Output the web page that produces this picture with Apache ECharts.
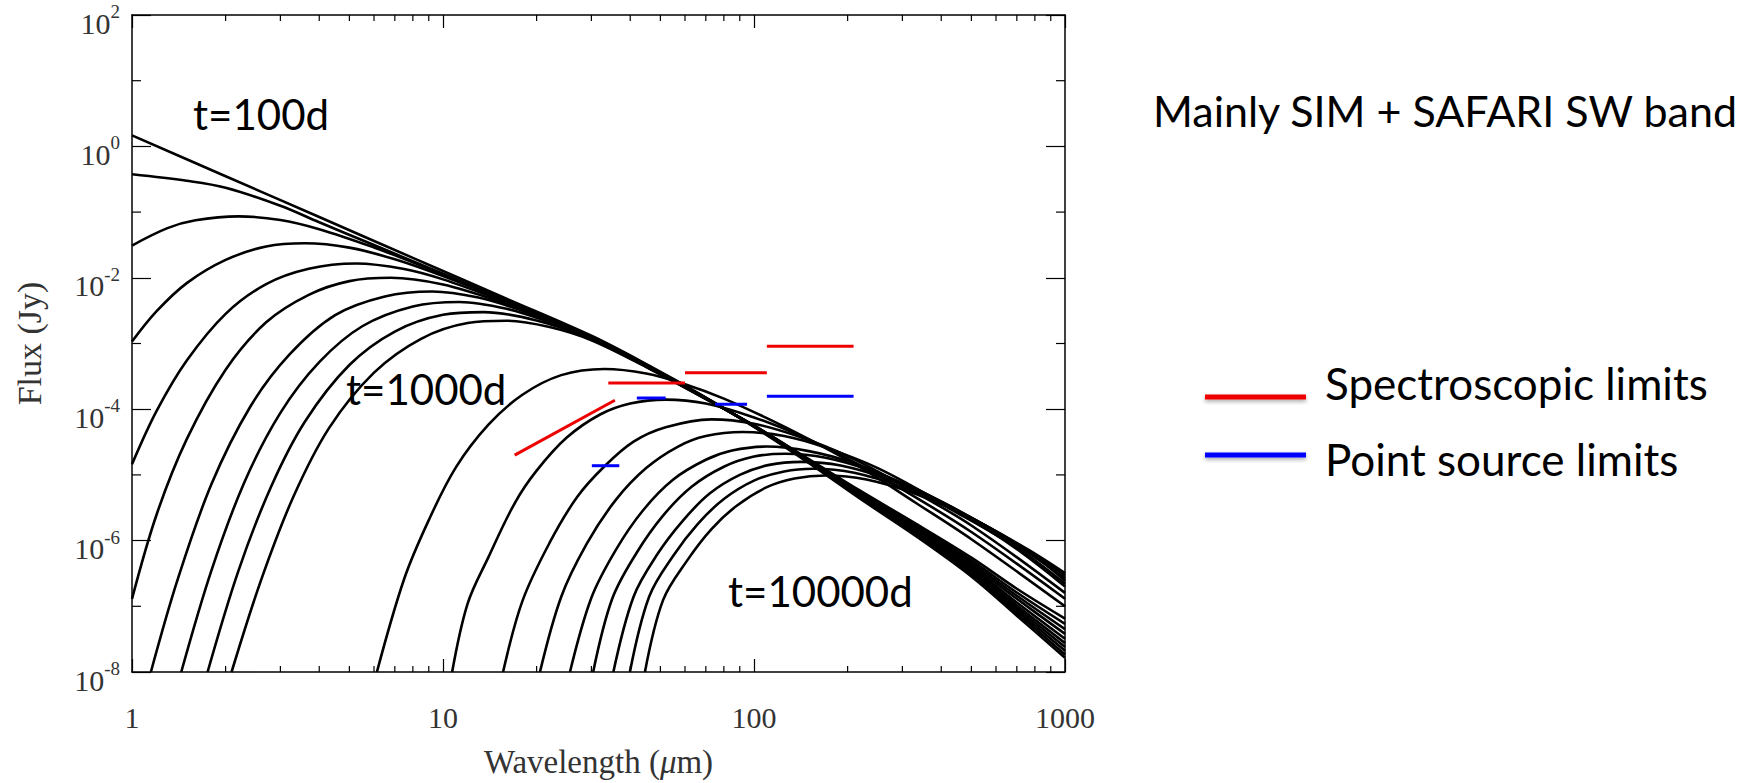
<!DOCTYPE html>
<html>
<head>
<meta charset="utf-8">
<script src="https://cdn.jsdelivr.net/npm/echarts@6/dist/echarts.min.js"></script>
<style>
html,body{margin:0;padding:0;background:#fff;}
#chart{width:1750px;height:783px;}
</style>
</head>
<body>
<div id="chart"></div>
<script>
// ---------- axis ticks ----------
const xTickLabels = ['1', '10', '100', '1000'];
const yTickExponents = [-8, -6, -4, -2, 0, 2];
const xMinorTicks = [2,3,4,5,6,7,8,9,20,30,40,50,60,70,80,90,200,300,400,500,600,700,800,900];
const yMinorTicks = [1e-7, 1e-5, 1e-3, 1e-1, 1e1];

// ---------- model curves: [wavelength (um), flux (Jy)] ----------
const curveT100d = [[1,1.47],[2,0.352],[4,0.0841],[8,0.0201],[16,4.81e-3],[30,1.31e-3],[46,4.6e-4],[67,1.7e-4],[100,5.4e-5],[150,1.52e-5],[220,4.3e-6],[330,1.19e-6],[500,2.85e-7],[700,7.2e-8],[1000,1.65e-8]];
const curveE2 = [[1,0.377],[1.5,0.3],[2,0.235],[3,0.125],[4,0.07],[6,0.0315],[10,0.0115],[16,4.55e-3],[22,2.35e-3],[30,1.28e-3],[46,4.5e-4],[67,1.68e-4],[100,5.45e-5],[150,1.55e-5],[220,4.45e-6],[330,1.24e-6],[500,3.05e-7],[700,7.9e-8],[1000,1.85e-8]];
const curveE3 = [[1,0.031],[1.3,0.057],[1.6,0.075],[2.2,0.086],[3,0.076],[4,0.055],[6,0.029],[8,0.0172],[12,7.8e-3],[16,4.45e-3],[22,2.3e-3],[30,1.25e-3],[46,4.45e-4],[67,1.67e-4],[100,5.45e-5],[150,1.57e-5],[220,4.55e-6],[330,1.29e-6],[500,3.25e-7],[700,8.6e-8],[1000,2.1e-8]];
const curveE4 = [[1,1.07e-3],[1.2,3.1e-3],[1.5,8.3e-3],[2,0.0187],[2.7,0.03],[3.6,0.0336],[5,0.0288],[7,0.0191],[10,0.0106],[16,4.37e-3],[22,2.25e-3],[30,1.24e-3],[46,4.4e-4],[67,1.66e-4],[100,5.5e-5],[150,1.59e-5],[220,4.7e-6],[330,1.35e-6],[500,3.45e-7],[700,9.4e-8],[1000,2.4e-8]];
const curveE5 = [[1,1.45e-5],[1.2,9.4e-5],[1.5,5.5e-4],[2,2.83e-3],[2.7,8.0e-3],[3.7,0.0137],[5.25,0.0165],[7.5,0.0136],[10,9.46e-3],[15,4.72e-3],[22,2.27e-3],[30,1.23e-3],[46,4.35e-4],[67,1.65e-4],[100,5.5e-5],[150,1.61e-5],[220,4.8e-6],[330,1.4e-6],[500,3.7e-7],[700,1.03e-7],[1000,2.75e-8]];
const curveE6 = [[1,1.3e-7],[1.2,2.5e-6],[1.5,3.5e-5],[2,4.0e-4],[2.7,2.1e-3],[3.7,5.5e-3],[5,8.9e-3],[6.8,0.01],[10,7.9e-3],[15,4.45e-3],[22,2.23e-3],[30,1.21e-3],[46,4.3e-4],[67,1.64e-4],[100,5.5e-5],[150,1.63e-5],[220,4.95e-6],[330,1.46e-6],[500,3.95e-7],[700,1.14e-7],[1000,3.2e-8]];
const curveE7 = [[1.15,1e-8],[1.4,2.5e-7],[1.8,7.2e-6],[2.4,1.09e-4],[3.2,6.7e-4],[4.5,2.7e-3],[6.5,5.2e-3],[9.25,6.2e-3],[13,5.0e-3],[18,3.15e-3],[25,1.74e-3],[30,1.22e-3],[46,4.3e-4],[67,1.63e-4],[100,5.55e-5],[150,1.65e-5],[220,5.1e-6],[330,1.53e-6],[500,4.25e-7],[700,1.3e-7],[1000,3.8e-8]];
const curveE8 = [[1.44,1e-8],[1.8,3.5e-7],[2.3,7.8e-6],[3,8.8e-5],[4,5.2e-4],[5.5,1.83e-3],[8,3.66e-3],[11.3,4.28e-3],[16,3.37e-3],[22,2.11e-3],[30,1.2e-3],[46,4.25e-4],[67,1.62e-4],[100,5.6e-5],[150,1.68e-5],[220,5.25e-6],[330,1.62e-6],[500,4.6e-7],[700,1.45e-7],[1000,4.5e-8]];
const curveE9 = [[1.75,1e-8],[2.2,3.5e-7],[2.8,6.6e-6],[3.6,6.5e-5],[5,4.7e-4],[7,1.52e-3],[10,2.73e-3],[13.5,3.0e-3],[20,2.24e-3],[30,1.16e-3],[46,4.2e-4],[67,1.61e-4],[100,5.6e-5],[150,1.7e-5],[220,5.45e-6],[330,1.72e-6],[500,5.0e-7],[700,1.62e-7],[1000,5.4e-8]];
const curveE10 = [[2.09,1e-8],[2.6,2.5e-7],[3.3,4.6e-6],[4.3,5.15e-5],[6,3.6e-4],[8.5,1.18e-3],[12,2.05e-3],[16,2.22e-3],[22,1.78e-3],[30,1.12e-3],[46,4.15e-4],[67,1.6e-4],[100,5.65e-5],[150,1.74e-5],[220,5.7e-6],[330,1.83e-6],[500,5.5e-7],[700,1.85e-7],[1000,6.5e-8]];

const curveT1000d = [[6.13,1e-8],[7.5,2.6e-7],[9,2.05e-6],[11,1.3e-5],[14,5.8e-5],[18,1.66e-4],[24,3.3e-4],[33,4.1e-4],[45,3.5e-4],[60,2.4e-4],[80,1.45e-4],[110,7.3e-5],[150,3.5e-5],[220,1.3e-5],[330,3.8e-6],[500,1.05e-6],[1000,1.0e-7]];
const curveL2 = [[10.7,1e-8],[12,1.1e-7],[14,5.6e-7],[17,3.7e-6],[20,1.16e-5],[25,3.7e-5],[32,8.3e-5],[40,1.22e-4],[52,1.4e-4],[70,1.22e-4],[100,7.5e-5],[140,4.0e-5],[200,1.76e-5],[300,6.0e-6],[500,1.35e-6],[1000,1.3e-7]];
const curveL3 = [[15.6,1e-8],[18,1.2e-7],[22,9.2e-7],[27,4.6e-6],[33,1.34e-5],[41,3.2e-5],[52,5.3e-5],[73,7e-5],[100,6.0e-5],[140,3.8e-5],[200,1.93e-5],[300,7.0e-6],[500,1.7e-6],[1000,1.6e-7]];
const curveL4 = [[20.5,1e-8],[24,1.4e-7],[29,9e-7],[36,4.2e-6],[45,1.27e-5],[57,2.7e-5],[70,3.9e-5],[92,4.5e-5],[125,3.9e-5],[170,2.6e-5],[250,1.27e-5],[400,3.8e-6],[650,9.5e-7],[1000,2.0e-7]];
const curveL5 = [[25.6,1e-8],[30,1.35e-7],[36,7.3e-7],[44,2.9e-6],[55,8.5e-6],[70,1.7e-5],[85,2.35e-5],[110,2.7e-5],[150,2.3e-5],[210,1.5e-5],[300,7.3e-6],[450,2.65e-6],[700,7.8e-7],[1000,2.2e-7]];
const curveL6 = [[30.4,1e-8],[35,1.3e-7],[42,6.6e-7],[51,2.4e-6],[63,6.6e-6],[80,1.33e-5],[100,1.9e-5],[126,2.1e-5],[170,1.83e-5],[240,1.15e-5],[350,5.4e-6],[520,2.0e-6],[750,7.2e-7],[1000,2.45e-7]];
const curveL7 = [[35.3,1e-8],[41,1.4e-7],[49,6.3e-7],[59,2.0e-6],[72,5.2e-6],[90,1.0e-5],[112,1.42e-5],[142,1.58e-5],[190,1.39e-5],[270,8.6e-6],[400,3.9e-6],[600,1.35e-6],[1000,2.7e-7]];
const curveL8 = [[39.9,1e-8],[46,1.4e-7],[55,5.9e-7],[66,1.8e-6],[80,4.3e-6],[100,8.2e-6],[125,1.13e-5],[155,1.24e-5],[210,1.08e-5],[300,6.5e-6],[450,2.85e-6],[700,9.0e-7],[1000,2.95e-7]];
const curveT10000d = [[44.6,1e-8],[51,1.24e-7],[61,5.0e-7],[73,1.5e-6],[88,3.4e-6],[110,6.5e-6],[135,8.8e-6],[170,9.8e-6],[230,8.5e-6],[330,5.15e-6],[500,2.2e-6],[750,7.6e-7],[1000,3.2e-7]];

// ---------- sensitivity limits: [lambda1, flux1, lambda2, flux2] ----------
const spectroscopicLimits = [[17.0,2.0e-5,35.7,1.37e-4],[34.0,2.5e-4,60,2.5e-4],[60,3.6e-4,110,3.6e-4],[110,9.1e-4,209,9.1e-4]];
const pointSourceLimits = [[30.1,1.38e-5,36.9,1.38e-5],[42,1.48e-4,52,1.48e-4],[75,1.19e-4,95,1.19e-4],[110,1.58e-4,209,1.58e-4]];

// ---------- texts ----------
const annotationTexts = ['t=100d', 't=1000d', 't=10000d'];
const titleText = 'Mainly SIM + SAFARI SW band';
const legendNames = ['Spectroscopic limits', 'Point source limits'];

// ---------- build ----------
const modelCurves = [curveT100d, curveE2, curveE3, curveE4, curveE5, curveE6, curveE7, curveE8, curveE9, curveE10,
  curveT1000d, curveL2, curveL3, curveL4, curveL5, curveL6, curveL7, curveL8, curveT10000d];

const X_MIN = 1, X_MAX = 1000, Y_MIN = 1e-8, Y_MAX = 1e2;
const SERIF = '"Liberation Serif", "Times New Roman", serif';
const SANS = 'Lato, "Open Sans", sans-serif';
const AX = '#000';

const series = [];
modelCurves.forEach((c, i) => {
  series.push({
    type: 'line', name: 'model' + i, data: c, showSymbol: false, smooth: 0.35,
    lineStyle: { color: '#000', width: 2.6 }, silent: true, z: 2, animation: false
  });
});
function addLimits(list, color, name) {
  list.forEach(s => {
    series.push({
      type: 'line', name: name, data: [[s[0], s[1]], [s[2], s[3]]], showSymbol: false,
      lineStyle: { color: color, width: 3 }, silent: true, z: 4, animation: false
    });
  });
}
addLimits(spectroscopicLimits, '#ee0000', legendNames[0]);
addLimits(pointSourceLimits, '#0000ff', legendNames[1]);

// minor ticks drawn through the axes' own scales
series.push({
  type: 'custom', coordinateSystem: 'cartesian2d', silent: true, clip: false, z: 5, animation: false,
  data: xMinorTicks.map(v => [v, Y_MIN]),
  renderItem: function (params, api) {
    const v = api.value(0);
    const pb = api.coord([v, Y_MIN]);
    const pt = api.coord([v, Y_MAX]);
    return { type: 'group', children: [
      { type: 'line', shape: { x1: pb[0], y1: pb[1], x2: pb[0], y2: pb[1] - 6 }, style: { stroke: AX, lineWidth: 1.2 } },
      { type: 'line', shape: { x1: pt[0], y1: pt[1], x2: pt[0], y2: pt[1] + 6 }, style: { stroke: AX, lineWidth: 1.2 } }
    ]};
  }
});
series.push({
  type: 'custom', coordinateSystem: 'cartesian2d', silent: true, clip: false, z: 5, animation: false,
  data: yMinorTicks.map(v => [X_MIN, v]),
  renderItem: function (params, api) {
    const v = api.value(1);
    const pl = api.coord([X_MIN, v]);
    const pr = api.coord([X_MAX, v]);
    return { type: 'group', children: [
      { type: 'line', shape: { x1: pl[0], y1: pl[1], x2: pl[0] + 9, y2: pl[1] }, style: { stroke: AX, lineWidth: 1.2 } },
      { type: 'line', shape: { x1: pr[0], y1: pr[1], x2: pr[0] - 9, y2: pr[1] }, style: { stroke: AX, lineWidth: 1.2 } }
    ]};
  }
});

function xAxisCfg(pos, labels) {
  return {
    type: 'log', logBase: 10, min: X_MIN, max: X_MAX, interval: 1, position: pos,
    axisLine: { show: true, lineStyle: { color: AX, width: 1.5 } },
    axisTick: { show: true, inside: true, length: 13, lineStyle: { color: AX, width: 1.2 } },
    axisLabel: {
      show: labels, margin: 30, fontFamily: SERIF, fontSize: 30, color: '#333',
      formatter: function (v) { const e = Math.round(Math.log10(v)); return xTickLabels[e]; }
    },
    splitLine: { show: false },
    name: labels ? 'Wavelength ({i|μ}m)' : '', nameLocation: 'middle', nameGap: 73,
    nameTextStyle: { fontFamily: SERIF, fontSize: 33, color: '#333',
      rich: { i: { fontFamily: SERIF, fontSize: 33, fontStyle: 'italic', color: '#333' } } }
  };
}
function yAxisCfg(pos, labels) {
  return {
    type: 'log', logBase: 10, min: Y_MIN, max: Y_MAX, interval: 2, position: pos,
    axisLine: { show: true, lineStyle: { color: AX, width: 1.5 } },
    axisTick: { show: true, inside: true, length: 19, lineStyle: { color: AX, width: 1.2 } },
    axisLabel: {
      show: labels, margin: 12, color: '#333',
      formatter: function (v) {
        const e = Math.round(Math.log10(v));
        return yTickExponents.indexOf(e) >= 0 ? '{b|10}{s|' + e + '}' : '';
      },
      rich: {
        b: { fontFamily: SERIF, fontSize: 30, lineHeight: 30, padding: [8, 0, 0, 0], verticalAlign: 'top', color: '#333' },
        s: { fontFamily: SERIF, fontSize: 19, lineHeight: 19, padding: [2, 0, 0, 0], verticalAlign: 'top', color: '#333' }
      }
    },
    splitLine: { show: false },
    name: labels ? 'Flux (Jy)' : '', nameLocation: 'middle', nameGap: 86, nameRotate: 90,
    nameTextStyle: { fontFamily: SERIF, fontSize: 34, color: '#333' }
  };
}

function txt(x, y, s, size) {
  return { type: 'text', x: x, y: y, z: 10, silent: true,
    style: { text: s, font: size + 'px ' + SANS, fill: '#000', align: 'left', verticalAlign: 'middle', textAlign: 'left', textVerticalAlign: 'middle' } };
}
function legendBar(yCenter, color) {
  return { type: 'rect', z: 10, silent: true, shape: { x: 1205, y: yCenter - 2.5, width: 101, height: 5 },
    style: { fill: color, shadowBlur: 4, shadowOffsetY: 2, shadowColor: 'rgba(0,0,0,0.35)' } };
}

const chart = echarts.init(document.getElementById('chart'), null, { renderer: 'svg' });
chart.setOption({
  animation: false,
  backgroundColor: '#fff',
  grid: { left: 132, top: 14, width: 933, height: 660, containLabel: false },
  xAxis: [xAxisCfg('bottom', true), xAxisCfg('top', false)],
  yAxis: [yAxisCfg('left', true), yAxisCfg('right', false)],
  series: series,
  graphic: [
    txt(193, 114, annotationTexts[0], 42),
    txt(346, 389, annotationTexts[1], 42),
    txt(728, 591, annotationTexts[2], 42),
    txt(1153, 110, titleText, 43),
    legendBar(397, '#ee0000'),
    legendBar(455, '#0000ff'),
    txt(1325, 383, legendNames[0], 44),
    txt(1325, 459, legendNames[1], 44)
  ]
});
</script>
</body>
</html>
